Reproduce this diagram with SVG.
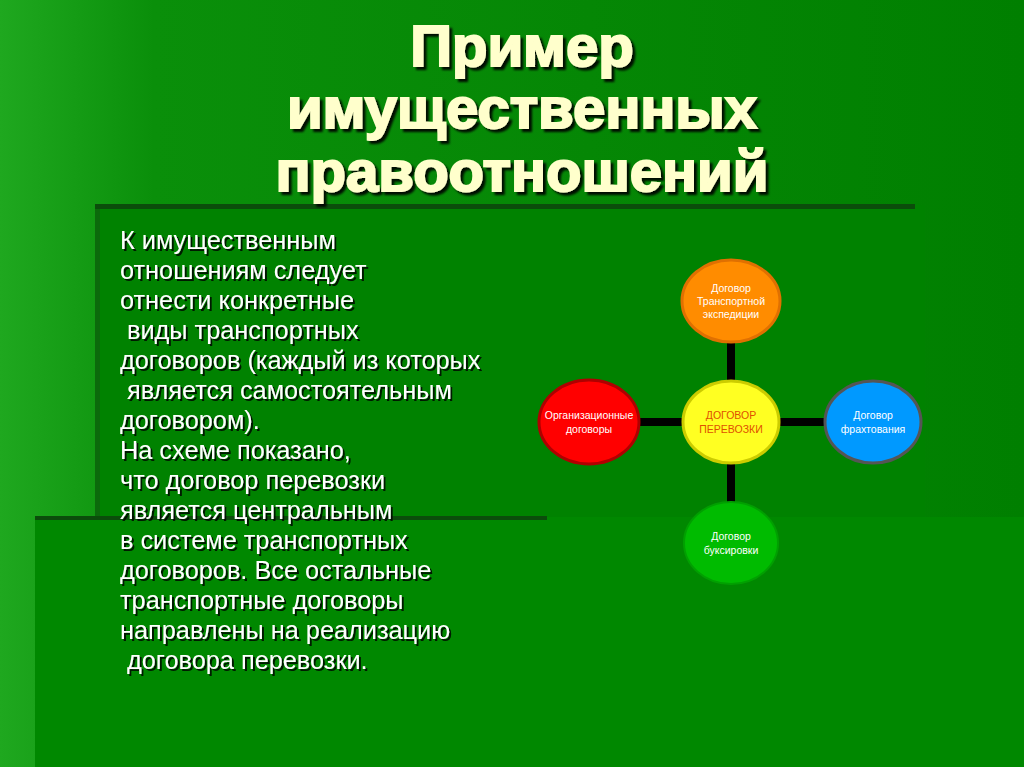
<svg xmlns="http://www.w3.org/2000/svg" width="1024" height="767" viewBox="0 0 1024 767">
<defs>
<linearGradient id="bg" x1="0" y1="0" x2="1" y2="0">
<stop offset="0" stop-color="#1fa81f"/><stop offset="0.15" stop-color="#0a8f0a"/><stop offset="1" stop-color="#007f00"/>
</linearGradient>
<filter id="sh"><feDropShadow dx="2" dy="2" stdDeviation="0.6" flood-color="#000" flood-opacity="0.8"/></filter>
<filter id="sh2"><feDropShadow dx="3" dy="3" stdDeviation="1" flood-color="#000" flood-opacity="0.9"/></filter>
</defs>
<style>
.t{font-family:"Liberation Sans",Arial,sans-serif;font-size:58px;font-weight:bold;fill:#ffffcc;stroke:#ffffcc;stroke-width:2;text-anchor:middle}
.b{font-family:"Liberation Sans",Arial,sans-serif;font-size:25.3px;fill:#fff}
.n{font-family:"Liberation Sans",Arial,sans-serif;font-size:10.5px;fill:#fff;text-anchor:middle}
.c{stroke:#000;stroke-width:8}
</style>
<rect width="1024" height="767" fill="url(#bg)"/>
<rect x="95" y="205" width="830" height="562" fill="#008200"/>
<rect x="35" y="517" width="989" height="250" fill="#008800"/>
<rect x="95" y="204" width="820" height="5" fill="#0b4d0b"/>
<rect x="95" y="209" width="5" height="308" fill="#0b6a0b"/>
<rect x="35" y="516" width="512" height="4" fill="#0b4d0b"/>
<g filter="url(#sh2)">
<text class="t" x="522" y="66">Пример</text>
<text class="t" x="522" y="128">имущественных</text>
<text class="t" x="522" y="191">правоотношений</text>
</g>
<g filter="url(#sh)" class="b">
<text x="120" y="249">К имущественным</text>
<text x="120" y="279">отношениям следует</text>
<text x="120" y="309">отнести конкретные</text>
<text x="127" y="339">виды транспортных</text>
<text x="120" y="369">договоров (каждый из которых</text>
<text x="127" y="399">является самостоятельным</text>
<text x="120" y="429">договором).</text>
<text x="120" y="459">На схеме показано,</text>
<text x="120" y="489">что договор перевозки</text>
<text x="120" y="519">является центральным</text>
<text x="120" y="549">в системе транспортных</text>
<text x="120" y="579">договоров. Все остальные</text>
<text x="120" y="609">транспортные договоры</text>
<text x="120" y="639">направлены на реализацию</text>
<text x="127" y="669">договора перевозки.</text>
</g>
<g id="connectors">
<line class="c" x1="731" y1="338" x2="731" y2="380"/>
<line class="c" x1="731" y1="464" x2="731" y2="502"/>
<line class="c" x1="639" y1="422" x2="682" y2="422"/>
<line class="c" x1="780" y1="422" x2="825" y2="422"/>
</g>
<g id="n-top"><ellipse cx="731" cy="301" rx="49" ry="41" fill="#ff8c00" stroke="#e07000" stroke-width="3"/>
<text class="n" x="731" y="292">Договор</text><text class="n" x="731" y="305">Транспортной</text><text class="n" x="731" y="318">экспедиции</text></g>
<g id="n-left"><ellipse cx="589" cy="422" rx="50" ry="42" fill="#ff0000" stroke="#b00000" stroke-width="3"/>
<text class="n" x="589" y="419">Организационные</text><text class="n" x="589" y="433">договоры</text></g>
<g id="n-center"><ellipse cx="731" cy="422" rx="48" ry="41" fill="#ffff22" stroke="#cccc00" stroke-width="3"/>
<text class="n" x="731" y="419" style="fill:#e05000">ДОГОВОР</text><text class="n" x="731" y="433" style="fill:#e05000">ПЕРЕВОЗКИ</text></g>
<g id="n-right"><ellipse cx="873" cy="422" rx="48" ry="41" fill="#0099ff" stroke="#555" stroke-width="3"/>
<text class="n" x="873" y="419">Договор</text><text class="n" x="873" y="433">фрахтования</text></g>
<g id="n-bottom"><ellipse cx="731" cy="543" rx="47" ry="41" fill="#00bb00" stroke="#00a000" stroke-width="2"/>
<text class="n" x="731" y="540">Договор</text><text class="n" x="731" y="554">буксировки</text></g>
</svg>
